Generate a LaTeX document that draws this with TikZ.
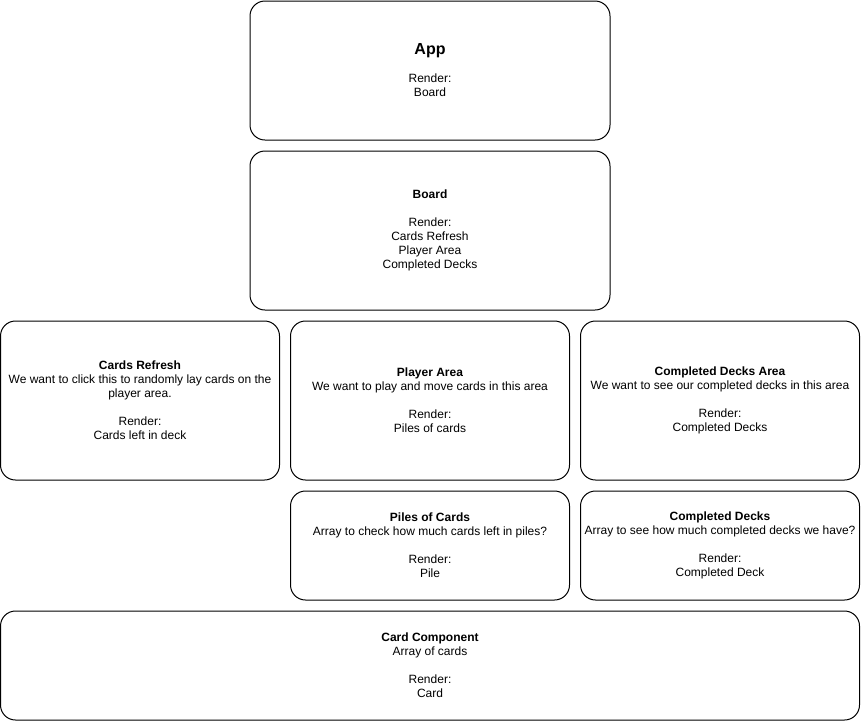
\documentclass[tikz,border=0pt]{standalone}
\usepackage{fontspec}
\setmainfont{Liberation Sans}
\usetikzlibrary{positioning}
\tikzset{compblk/.style={
    rectangle,rounded corners=15pt,
    draw=black,line width=1pt,fill=white,
    inner sep=0pt,align=center,
    minimum width=279pt,minimum height=159pt,
    font=\fontsize{12}{14}\selectfont}
}
\tikzset{wideblk/.style={compblk,minimum width=360pt},
  shortblk/.style={compblk,minimum height=109pt}
}
\newcommand{\blkgap}{\\[14pt]}

\begin{document}
\begin{tikzpicture}
    \useasboundingbox (0,0) rectangle (861pt,-721pt);
    % top
    \node (app) [wideblk,minimum height=139pt] at (430pt,-70.5pt)
      {{\fontsize{16}{18}\selectfont\textbf{App}}\blkgap Render:\\ Board};
    \node (board) [wideblk,below=10pt of app]
      {\textbf{Board}\blkgap Render:\\ Cards Refresh\\ Player Area\\ Completed Decks};
    % middle row
    \node (player) [compblk,below=10pt of board]
      {\textbf{Player Area}\\ We want to play and move cards in this area\blkgap
       Render:\\ Piles of cards};
    \node (refresh) [compblk,left=10pt of player]
      {\textbf{Cards Refresh}\\ We want to click this to randomly lay cards on the\\
       player area.\blkgap Render:\\ Cards left in deck};
    \node (completed) [compblk,right=10pt of player]
      {\textbf{Completed Decks Area}\\ We want to see our completed decks in this area\blkgap
       Render:\\ Completed Decks};
    % lower row
    \node (piles) [shortblk,below=10pt of player]
      {\textbf{Piles of Cards}\\ Array to check how much cards left in piles?\blkgap
       Render:\\ Pile};
    \node (decks) [shortblk,below=10pt of completed]
      {\textbf{Completed Decks}\\ Array to see how much completed decks we have?\blkgap
       Render:\\ Completed Deck};
    % bottom
    \node (card) [shortblk,minimum width=859pt,below=10pt of piles]
      {\textbf{Card Component}\\ Array of cards\blkgap Render:\\ Card};
\end{tikzpicture}
\end{document}
